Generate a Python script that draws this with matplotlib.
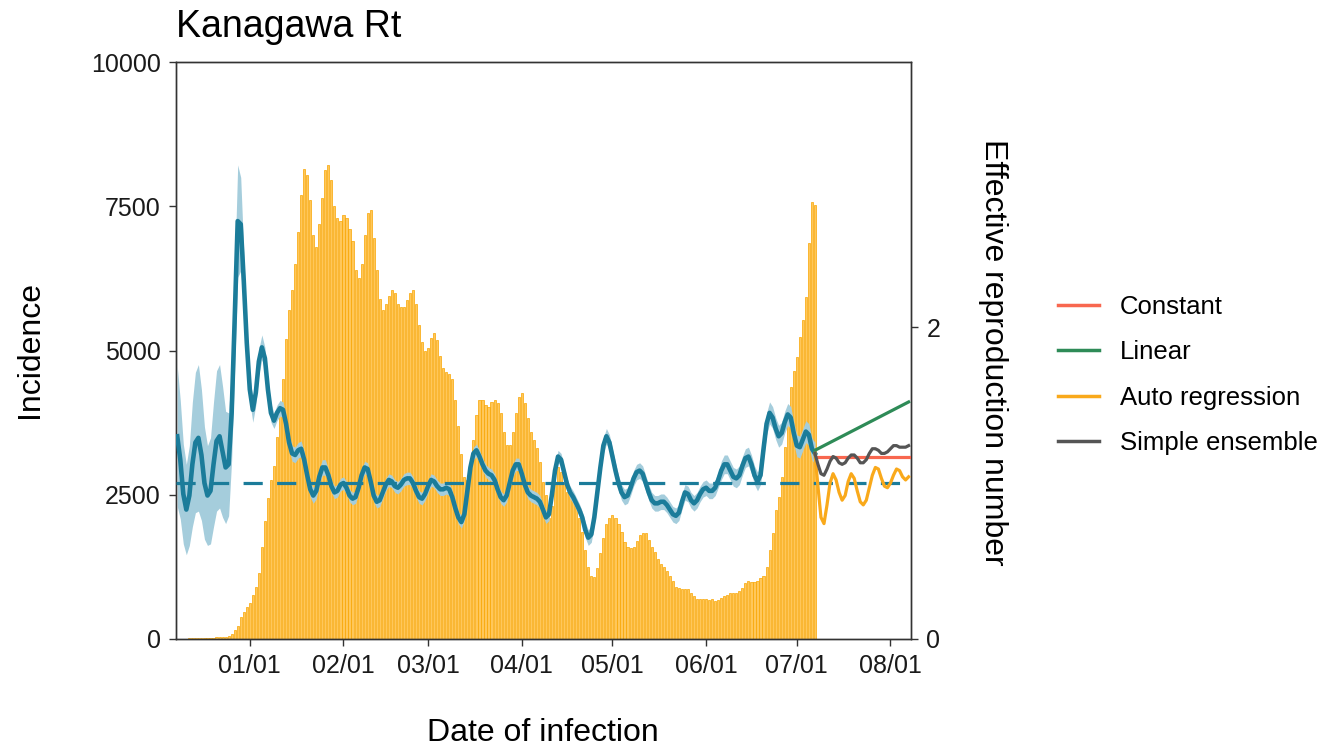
import matplotlib
matplotlib.use('Agg')
import matplotlib.pyplot as plt
import matplotlib.dates as mdates
from matplotlib.lines import Line2D
import numpy as np
import pandas as pd

plt.rcParams['font.family'] = ['Liberation Sans', 'DejaVu Sans']

# daily incidence, from 2021-12-08 to 2022-07-07
incidence = [
    5, 5, 5, 5, 10, 10, 15, 15, 15, 20,
    20, 25, 25, 30, 30, 35, 40, 60, 90, 150,
    230, 380, 470, 560, 620, 760, 900, 1150, 1600, 2050,
    2450, 2750, 3000, 3500, 4000, 4500, 5200, 5700, 6050, 6500,
    7050, 7700, 8150, 8050, 7600, 7000, 6800, 7200, 7650, 8130,
    8220, 7950, 7500, 7300, 7250, 7350, 7300, 7100, 6900, 6400,
    6250, 6500, 7000, 7380, 7430, 6950, 6400, 5900, 5700, 5800,
    5950, 6050, 6000, 5800, 5750, 5760, 5880, 6000, 6050, 5800,
    5450, 5150, 5000, 5050, 5220, 5300, 5180, 4900, 4700, 4630,
    4600, 4500, 4150, 3700, 3200, 2800, 2750, 3050, 3450, 3880,
    4140, 4140, 4060, 4020, 4110, 4140, 4090, 3910, 3590, 3360,
    3360, 3590, 3910, 4190, 4260, 4090, 3830, 3590, 3450, 3310,
    3070, 2720, 2500, 2100, 2300, 2700, 2980, 2900, 2700, 2550,
    2500, 2400, 2350, 2100, 1850, 1550, 1250, 1100, 1070, 1230,
    1490, 1750, 2000, 2100, 2150, 2100, 2000, 1850, 1680, 1600,
    1580, 1590, 1700, 1800, 1840, 1840, 1720, 1600, 1500, 1380,
    1300, 1250, 1180, 1100, 1000, 900, 880, 870, 870, 860,
    800, 740, 700, 690, 690, 690, 680, 690, 660, 670,
    710, 740, 770, 800, 790, 800, 830, 880, 970, 1000,
    990, 980, 1000, 1050, 1100, 1250, 1540, 1840, 2240, 2460,
    2810, 3330, 3920, 4370, 4650, 4890, 5230, 5530, 5930, 6860,
    7580, 7520,
]

# estimated Rt (posterior mean), same dates
rt_mean = [
    1.30, 1.15, 0.93, 0.83, 0.92, 1.12, 1.26, 1.29, 1.18, 1.00,
    0.92, 0.95, 1.12, 1.27, 1.30, 1.20, 1.10, 1.12, 1.45, 2.05,
    2.68, 2.66, 2.30, 1.90, 1.60, 1.47, 1.58, 1.78, 1.87, 1.80,
    1.60, 1.45, 1.40, 1.45, 1.48, 1.47, 1.38, 1.26, 1.19, 1.18,
    1.21, 1.22, 1.15, 1.05, 0.96, 0.92, 0.95, 1.04, 1.10, 1.10,
    1.05, 0.98, 0.94, 0.95, 0.99, 1.00, 0.97, 0.92, 0.90, 0.91,
    0.97, 1.05, 1.10, 1.09, 1.01, 0.92, 0.88, 0.89, 0.94, 0.99,
    1.02, 1.01, 0.98, 0.97, 0.99, 1.02, 1.03, 1.03, 1.00, 0.95,
    0.91, 0.90, 0.93, 0.98, 1.02, 1.01, 0.98, 0.96, 0.96, 0.97,
    0.96, 0.91, 0.84, 0.78, 0.75, 0.80, 0.95, 1.10, 1.19, 1.21,
    1.17, 1.12, 1.08, 1.06, 1.05, 1.02, 0.96, 0.91, 0.89, 0.92,
    1.00, 1.08, 1.12, 1.12, 1.06, 0.99, 0.94, 0.92, 0.91, 0.90,
    0.88, 0.83, 0.78, 0.80, 0.93, 1.08, 1.17, 1.15, 1.07, 0.99,
    0.94, 0.91, 0.87, 0.83, 0.78, 0.70, 0.65, 0.67, 0.78, 0.94,
    1.10, 1.24, 1.30, 1.26, 1.17, 1.08, 1.00, 0.94, 0.91, 0.92,
    0.97, 1.03, 1.07, 1.08, 1.06, 1.00, 0.94, 0.89, 0.87, 0.87,
    0.88, 0.88, 0.86, 0.83, 0.80, 0.79, 0.81, 0.88, 0.94, 0.93,
    0.89, 0.87, 0.89, 0.93, 0.96, 0.97, 0.95, 0.95, 0.97, 1.02,
    1.08, 1.12, 1.12, 1.08, 1.04, 1.03, 1.05, 1.11, 1.16, 1.17,
    1.12, 1.05, 1.01, 1.05, 1.22, 1.38, 1.45, 1.42, 1.35, 1.30,
    1.32, 1.39, 1.44, 1.42, 1.32, 1.24, 1.23, 1.28, 1.33, 1.31,
    1.22, 1.19,
]

# half width of the credible band
rt_halfwidth = [
    0.45, 0.38, 0.32, 0.29, 0.32, 0.40, 0.45, 0.47, 0.42, 0.36,
    0.32, 0.34, 0.40, 0.45, 0.46, 0.42, 0.36, 0.33, 0.30, 0.32,
    0.36, 0.30, 0.18, 0.10, 0.08, 0.08, 0.08, 0.08, 0.08, 0.07,
    0.06, 0.06, 0.05, 0.05, 0.05, 0.05, 0.05, 0.05, 0.05, 0.05,
    0.05, 0.05, 0.05, 0.05, 0.05, 0.05, 0.05, 0.05, 0.05, 0.05,
    0.04, 0.04, 0.04, 0.04, 0.04, 0.04, 0.04, 0.04, 0.04, 0.04,
    0.04, 0.04, 0.04, 0.04, 0.04, 0.04, 0.04, 0.04, 0.04, 0.04,
    0.04, 0.04, 0.04, 0.04, 0.04, 0.04, 0.04, 0.04, 0.04, 0.04,
    0.04, 0.04, 0.04, 0.04, 0.04, 0.04, 0.04, 0.04, 0.04, 0.04,
    0.04, 0.04, 0.04, 0.04, 0.04, 0.04, 0.04, 0.04, 0.04, 0.04,
    0.04, 0.04, 0.04, 0.04, 0.04, 0.04, 0.04, 0.04, 0.04, 0.04,
    0.04, 0.04, 0.04, 0.04, 0.04, 0.04, 0.04, 0.04, 0.04, 0.04,
    0.04, 0.04, 0.04, 0.04, 0.04, 0.04, 0.04, 0.04, 0.04, 0.04,
    0.04, 0.04, 0.04, 0.04, 0.04, 0.05, 0.05, 0.05, 0.05, 0.05,
    0.05, 0.05, 0.05, 0.05, 0.05, 0.05, 0.05, 0.05, 0.05, 0.05,
    0.05, 0.05, 0.05, 0.05, 0.05, 0.05, 0.05, 0.05, 0.05, 0.05,
    0.05, 0.05, 0.05, 0.05, 0.05, 0.05, 0.05, 0.05, 0.05, 0.05,
    0.05, 0.05, 0.05, 0.05, 0.05, 0.05, 0.05, 0.05, 0.05, 0.05,
    0.06, 0.06, 0.06, 0.06, 0.06, 0.06, 0.06, 0.06, 0.06, 0.06,
    0.06, 0.06, 0.06, 0.06, 0.07, 0.07, 0.07, 0.07, 0.07, 0.07,
    0.07, 0.07, 0.07, 0.07, 0.07, 0.07, 0.07, 0.07, 0.07, 0.07,
    0.07, 0.07,
]

# forecasts, 2022-07-07 to 2022-08-07
fc_auto_reg = [
    1.19, 0.98, 0.78, 0.74, 0.86, 1.00, 1.06, 1.02, 0.94, 0.89,
    0.92, 1.01, 1.06, 1.03, 0.95, 0.88, 0.86, 0.89, 0.97, 1.05,
    1.10, 1.09, 1.03, 0.98, 0.97, 1.00, 1.05, 1.09, 1.08, 1.04,
    1.02, 1.04,
]
fc_ensemble = [
    1.19, 1.12, 1.06, 1.05, 1.09, 1.14, 1.17, 1.16, 1.13, 1.12,
    1.13, 1.16, 1.18, 1.18, 1.16, 1.13, 1.13, 1.15, 1.19, 1.22,
    1.22, 1.21, 1.19, 1.19, 1.20, 1.22, 1.24, 1.24, 1.23, 1.23,
    1.23, 1.24,
]
fc_ends = ['2022-07-07', '2022-08-07']
fc_constant = [1.17, 1.17]
fc_linear = [1.21, 1.52]

legend_labels = ['Constant', 'Linear', 'Auto regression', 'Simple ensemble']
legend_colors = ['#F8674F', '#2E8B57', '#F9A91B', '#555555']

dates = pd.date_range('2021-12-08', periods=len(incidence), freq='D')
rt_dates = pd.date_range('2021-12-08', periods=len(rt_mean), freq='D')
fc_dates = pd.date_range(fc_ends[0], periods=len(fc_auto_reg), freq='D')
fc_end_dates = pd.to_datetime(fc_ends)

rt_mean = np.array(rt_mean)
rt_halfwidth = np.array(rt_halfwidth)

fig = plt.figure(figsize=(13.22, 7.5), dpi=100)
ax = fig.add_axes([176 / 1322, 1 - 639 / 750, 735 / 1322, 577 / 750])

ax.bar(dates, incidence, width=0.7, color='#FFC75A', edgecolor='#F8A500',
       linewidth=0.5, zorder=2)
ax.set_ylim(0, 10000)
ax.set_yticks([0, 2500, 5000, 7500, 10000])
ax.set_xlim(pd.Timestamp('2021-12-07 14:00'), pd.Timestamp('2022-08-07 19:00'))
ax.xaxis.set_major_locator(mdates.MonthLocator(bymonthday=1))
ax.xaxis.set_major_formatter(mdates.DateFormatter('%m/%d'))

ax2 = ax.twinx()
rt_col = '#1B7C9A'
ax2.fill_between(rt_dates, rt_mean - rt_halfwidth, rt_mean + rt_halfwidth,
                 color='#A5CDDC', linewidth=0, zorder=1)
ax2.plot(rt_dates, rt_mean, color=rt_col, lw=3.3, zorder=3)
ax2.axhline(1, color=rt_col, lw=2.3, ls=(0, (6, 4.5)), zorder=4)
ax2.plot(fc_end_dates, fc_linear, color=legend_colors[1], lw=2.3, zorder=5)
ax2.plot(fc_end_dates, fc_constant, color=legend_colors[0], lw=2.3, zorder=5)
ax2.plot(fc_dates, fc_auto_reg, color=legend_colors[2], lw=2.3, zorder=5)
ax2.plot(fc_dates, fc_ensemble, color=legend_colors[3], lw=2.3, zorder=6)
ax2.set_ylim(0, 3.7)
ax2.set_yticks([0, 2])

for a in (ax, ax2):
    for s in a.spines.values():
        s.set_color('#333333')
        s.set_linewidth(1.0)
    a.tick_params(colors='#333333', labelcolor='#1a1a1a', length=5, width=1,
                  labelsize=18, pad=6)

fig.text(176 / 1322, 1 - 27 / 750, 'Kanagawa Rt', fontsize=27, ha='left', va='center')
fig.text(30 / 1322, 1 - 350 / 750, 'Incidence', fontsize=23, rotation=90,
         ha='center', va='center')
fig.text(993 / 1322, 1 - 352 / 750, 'Effective reproduction number', fontsize=23,
         rotation=270, ha='center', va='center')
fig.text(543 / 1322, 1 - 733 / 750, 'Date of infection', fontsize=23,
         ha='center', va='center')

handles = [Line2D([0], [0], color=c, lw=2.5) for c in legend_colors]
fig.legend(handles, legend_labels, loc='center left',
           bbox_to_anchor=(1035 / 1322, 1 - 375 / 750), frameon=False,
           fontsize=18.5, handlelength=1.6, handletextpad=0.8, labelspacing=0.82)

fig.savefig('out.png', dpi=100)
